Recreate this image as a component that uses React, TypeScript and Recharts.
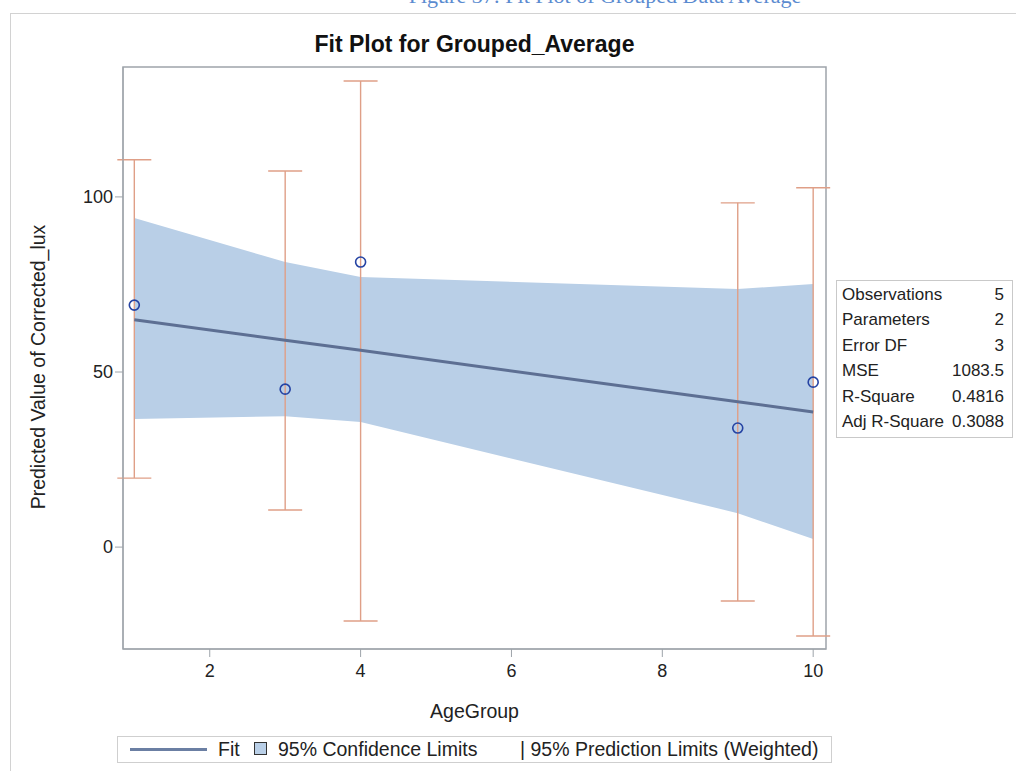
import {
  ComposedChart,
  Area,
  Line,
  Scatter,
  ErrorBar,
  XAxis,
  YAxis,
  ReferenceArea,
} from "recharts";

// values
const ageGroup = [1, 3, 4, 9, 10];
const observed = [69.1, 45.1, 81.4, 34.0, 47.1];
const fitValues = [64.9, 59.1, 56.2, 41.5, 38.6];
const clmLower = [36.6, 37.4, 35.7, 9.7, 2.3];
const clmUpper = [94.0, 81.4, 77.1, 73.7, 75.1];
const pliLower = [19.7, 10.6, -21.1, -15.4, -25.4];
const pliUpper = [110.6, 107.4, 133.1, 98.3, 102.6];

const xTicks = [2, 4, 6, 8, 10];
const yTicks = [0, 50, 100];
const xDomain: [number, number] = [0.85, 10.17];
const yDomain: [number, number] = [-29.1, 137.1];

const statLabels = [
  "Observations",
  "Parameters",
  "Error DF",
  "MSE",
  "R-Square",
  "Adj R-Square",
];
const statValues = ["5", "2", "3", "1083.5", "0.4816", "0.3088"];

const rows = ageGroup.map((age, i) => ({
  age,
  obs: observed[i],
  fit: fitValues[i],
  band: [clmLower[i], clmUpper[i]],
  plErr: [fitValues[i] - pliLower[i], pliUpper[i] - fitValues[i]],
}));

const FONT = '"Liberation Sans", Arial, sans-serif';
const AXIS_GRAY = "#9ea4aa";
const TEXT = "#222";

const HollowCircle = (props: any) => {
  const { cx, cy } = props;
  if (cx == null || cy == null) return null;
  return (
    <circle cx={cx} cy={cy} r={5} fill="none" stroke="#2543a3" strokeWidth={1.6} />
  );
};

export default function App() {
  return (
    <div
      style={{
        position: "fixed",
        left: 0,
        top: 0,
        width: 1016,
        height: 771,
        background: "#fff",
        overflow: "hidden",
        fontFamily: FONT,
      }}
    >
      <div
        style={{
          position: "absolute",
          left: 385,
          top: -17,
          width: 440,
          textAlign: "center",
          fontFamily: '"Liberation Serif", serif',
          fontSize: 22,
          color: "#5b8bd0",
          whiteSpace: "nowrap",
        }}
      >
        Figure 37: Fit Plot of Grouped Data Average
      </div>
      <div
        style={{
          position: "absolute",
          left: 10,
          top: 13,
          width: 1100,
          height: 900,
          border: "1px solid #d2d2d2",
        }}
      />
      <div
        style={{
          position: "absolute",
          left: 123,
          top: 31,
          width: 703,
          textAlign: "center",
          fontWeight: "bold",
          fontSize: 23,
          color: "#111",
        }}
      >
        Fit Plot for Grouped_Average
      </div>

      <div style={{ position: "absolute", left: 0, top: 0 }}>
        <ComposedChart
          width={1016}
          height={771}
          data={rows}
          margin={{ top: 67, right: 190, bottom: 82, left: 63 }}
        >
          <XAxis
            dataKey="age"
            type="number"
            domain={xDomain}
            ticks={xTicks}
            allowDataOverflow
            height={40}
            tickSize={8}
            tickLine={{ stroke: AXIS_GRAY }}
            axisLine={{ stroke: AXIS_GRAY }}
            tick={{ fill: TEXT, fontSize: 18, fontFamily: FONT, dy: 5 }}
          />
          <YAxis
            type="number"
            domain={yDomain}
            ticks={yTicks}
            allowDataOverflow
            width={60}
            tickSize={8}
            tickLine={{ stroke: AXIS_GRAY }}
            axisLine={{ stroke: AXIS_GRAY }}
            tick={{ fill: TEXT, fontSize: 18, fontFamily: FONT }}
          />
          <Area
            dataKey="band"
            type="linear"
            fill="#b9cfe7"
            fillOpacity={1}
            stroke="none"
            isAnimationActive={false}
          />
          <Line
            dataKey="fit"
            type="linear"
            stroke="none"
            dot={false}
            activeDot={false}
            isAnimationActive={false}
          >
            <ErrorBar
              dataKey="plErr"
              direction="y"
              width={17}
              stroke="#df9f87"
              strokeWidth={1.4}
            />
          </Line>
          <Line
            dataKey="fit"
            type="linear"
            stroke="#5d6f93"
            strokeWidth={3}
            dot={false}
            activeDot={false}
            isAnimationActive={false}
          />
          <Scatter
            dataKey="obs"
            shape={HollowCircle}
            isAnimationActive={false}
          />
          <ReferenceArea
            x1={xDomain[0]}
            x2={xDomain[1]}
            y1={yDomain[0]}
            y2={yDomain[1]}
            fill="none"
            stroke={AXIS_GRAY}
            strokeWidth={1.5}
          />
        </ComposedChart>
      </div>

      <div
        style={{
          position: "absolute",
          left: 38,
          top: 367,
          transform: "translate(-50%, -50%) rotate(-90deg)",
          whiteSpace: "nowrap",
          fontSize: 19.5,
          color: TEXT,
        }}
      >
        Predicted Value of Corrected_lux
      </div>
      <div
        style={{
          position: "absolute",
          left: 123,
          top: 700,
          width: 703,
          textAlign: "center",
          fontSize: 19.5,
          color: TEXT,
        }}
      >
        AgeGroup
      </div>

      <div
        style={{
          position: "absolute",
          left: 836,
          top: 280,
          width: 177,
          height: 158,
          border: "1px solid #c9c9c9",
          boxSizing: "border-box",
          padding: "1px 8px 1px 5px",
          fontSize: 17,
          color: TEXT,
        }}
      >
        {statLabels.map((label, i) => (
          <div
            key={label}
            style={{
              display: "flex",
              justifyContent: "space-between",
              height: 25.4,
              lineHeight: "25.4px",
              whiteSpace: "nowrap",
            }}
          >
            <span>{label}</span>
            <span>{statValues[i]}</span>
          </div>
        ))}
      </div>

      <div
        style={{
          position: "absolute",
          left: 117,
          top: 736,
          width: 715,
          height: 27,
          border: "1px solid #cfcfcf",
          boxSizing: "border-box",
          fontSize: 19.5,
          color: TEXT,
          whiteSpace: "nowrap",
        }}
      >
        <span
          style={{
            position: "absolute",
            left: 12,
            top: 11,
            width: 77,
            height: 3,
            background: "#6b7fa3",
          }}
        />
        <span style={{ position: "absolute", left: 100, top: 1, lineHeight: "23px" }}>
          Fit
        </span>
        <span
          style={{
            position: "absolute",
            left: 136,
            top: 5,
            width: 11,
            height: 11,
            background: "#b9cfe7",
            border: "1px solid #333",
          }}
        />
        <span style={{ position: "absolute", left: 160, top: 1, lineHeight: "23px" }}>
          95% Confidence Limits
        </span>
        <span style={{ position: "absolute", left: 402, top: 1, lineHeight: "23px" }}>
          | 95% Prediction Limits (Weighted)
        </span>
      </div>
    </div>
  );
}
